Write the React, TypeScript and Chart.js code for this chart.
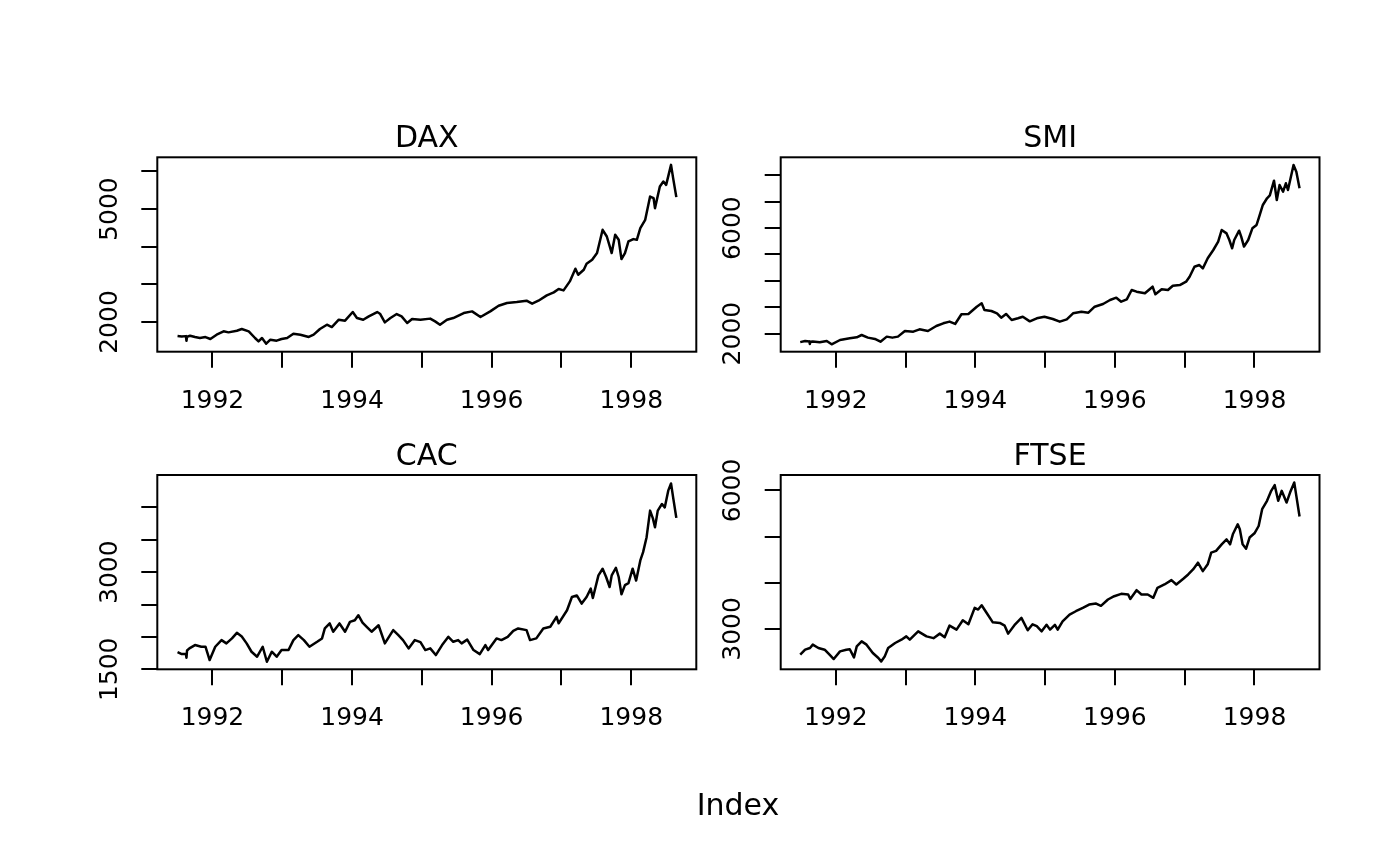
import React, { useEffect, useRef } from 'react';
import { Chart, registerables } from 'chart.js';

Chart.register(...registerables);

// ---------- data ----------
const daxYears = [1991.5, 1991.56, 1991.62, 1991.628, 1991.636, 1991.68, 1991.75, 1991.82, 1991.9, 1991.97,
  1992.06, 1992.16, 1992.23, 1992.35, 1992.42, 1992.52, 1992.61, 1992.66, 1992.71, 1992.77, 1992.83, 1992.92, 1992.99,
  1993.07, 1993.16, 1993.26, 1993.38, 1993.45, 1993.54, 1993.64, 1993.71, 1993.81, 1993.9,
  1994.01, 1994.07, 1994.16, 1994.24, 1994.36, 1994.4, 1994.47, 1994.55, 1994.64, 1994.71, 1994.79, 1994.86, 1994.98,
  1995.12, 1995.19, 1995.26, 1995.36, 1995.45, 1995.6, 1995.72, 1995.84, 1995.98,
  1996.1, 1996.22, 1996.36, 1996.5, 1996.58, 1996.67, 1996.79, 1996.89, 1996.96,
  1997.03, 1997.12, 1997.2, 1997.24, 1997.32, 1997.36, 1997.44, 1997.51, 1997.59, 1997.65, 1997.69, 1997.72, 1997.77, 1997.82, 1997.86, 1997.91, 1997.96,
  1998.03, 1998.08, 1998.13, 1998.2, 1998.27, 1998.32, 1998.34, 1998.41, 1998.46, 1998.5, 1998.57, 1998.6, 1998.646];
const daxValues = [1628, 1615, 1625, 1500, 1610, 1636, 1600, 1575, 1600, 1549,
  1663, 1752, 1725, 1769, 1814, 1752, 1575, 1485, 1575, 1424, 1530, 1504, 1549,
  1575, 1690, 1663, 1602, 1663, 1814, 1928, 1867, 2061, 2035,
  2265, 2106, 2061, 2150, 2265, 2220, 1990, 2106, 2212, 2150, 1973, 2080, 2060,
  2090, 2016, 1928, 2061, 2106, 2239, 2282, 2133, 2282,
  2432, 2504, 2531, 2566, 2486, 2566, 2707, 2787, 2876,
  2840, 3079, 3415, 3256, 3388, 3548, 3654, 3832, 4450, 4272, 4025, 3832, 4318, 4185, 3672, 3832, 4140,
  4203, 4185, 4495, 4716, 5334, 5292, 5026, 5600, 5733, 5645, 6176, 5823, 5318];

const smiYears = [1991.49, 1991.56, 1991.62, 1991.628, 1991.636, 1991.67, 1991.77, 1991.87, 1991.94,
  1992.06, 1992.2, 1992.3, 1992.37, 1992.46, 1992.56, 1992.64, 1992.73, 1992.81, 1992.89, 1992.99,
  1993.11, 1993.2, 1993.32, 1993.44, 1993.54, 1993.63, 1993.71, 1993.8, 1993.9,
  1994.02, 1994.09, 1994.13, 1994.23, 1994.31, 1994.37, 1994.44, 1994.52, 1994.61, 1994.68, 1994.78, 1994.88, 1994.99,
  1995.11, 1995.21, 1995.31, 1995.4, 1995.52, 1995.62, 1995.71, 1995.83, 1995.93,
  1996.02, 1996.09, 1996.17, 1996.24, 1996.31, 1996.43, 1996.54, 1996.58, 1996.67, 1996.76, 1996.83, 1996.93,
  1997.02, 1997.07, 1997.14, 1997.21, 1997.26, 1997.33, 1997.41, 1997.48, 1997.53, 1997.6, 1997.64, 1997.68, 1997.71, 1997.78, 1997.81, 1997.85, 1997.91, 1997.97,
  1998.03, 1998.06, 1998.12, 1998.18, 1998.22, 1998.28, 1998.32, 1998.36, 1998.41, 1998.45, 1998.48, 1998.56, 1998.6, 1998.646];
const smiValues = [1678, 1720, 1700, 1606, 1690, 1700, 1670, 1720, 1595,
  1758, 1822, 1860, 1947, 1847, 1797, 1693, 1885, 1847, 1885, 2099,
  2074, 2163, 2099, 2289, 2391, 2455, 2366, 2732, 2745,
  3020, 3149, 2895, 2857, 2770, 2603, 2745, 2516, 2580, 2640, 2465, 2580, 2641,
  2553, 2452, 2540, 2770, 2831, 2795, 3020, 3123, 3274,
  3362, 3210, 3300, 3654, 3590, 3528, 3779, 3490, 3680, 3654, 3817, 3840,
  3968, 4158, 4537, 4600, 4475, 4855, 5170, 5485, 5929, 5800, 5550, 5235, 5550, 5902, 5680, 5300, 5550, 5993,
  6119, 6372, 6877, 7131, 7240, 7798, 7066, 7635, 7380, 7700, 7445, 8393, 8140, 7510];

const cacYears = [1991.5, 1991.56, 1991.62, 1991.628, 1991.636, 1991.67, 1991.75, 1991.84, 1991.9, 1991.96,
  1992.04, 1992.13, 1992.2, 1992.28, 1992.35, 1992.42, 1992.49, 1992.56, 1992.64, 1992.72, 1992.78, 1992.85, 1992.92, 1992.99,
  1993.09, 1993.16, 1993.23, 1993.31, 1993.39, 1993.5, 1993.57, 1993.61, 1993.68, 1993.73, 1993.82, 1993.9, 1993.97,
  1994.04, 1994.09, 1994.15, 1994.21, 1994.28, 1994.38, 1994.47, 1994.59, 1994.66, 1994.73, 1994.81, 1994.9, 1994.98,
  1995.05, 1995.12, 1995.2, 1995.29, 1995.38, 1995.45, 1995.52, 1995.57, 1995.65, 1995.74, 1995.83, 1995.91, 1995.95,
  1996.07, 1996.14, 1996.23, 1996.31, 1996.38, 1996.5, 1996.55, 1996.64, 1996.74, 1996.84, 1996.93, 1996.96,
  1997.08, 1997.15, 1997.22, 1997.29, 1997.36, 1997.42, 1997.45, 1997.53, 1997.59, 1997.64, 1997.69, 1997.72, 1997.78, 1997.82, 1997.86, 1997.91, 1997.96,
  1998.02, 1998.07, 1998.13, 1998.17, 1998.22, 1998.27, 1998.31, 1998.34, 1998.38, 1998.44, 1998.48, 1998.53, 1998.57, 1998.6, 1998.646];
const cacValues = [1765, 1735, 1740, 1678, 1790, 1823, 1874, 1848, 1850, 1643,
  1848, 1951, 1900, 1977, 2063, 2005, 1900, 1771, 1694, 1848, 1617, 1771, 1694, 1797,
  1797, 1951, 2028, 1951, 1848, 1925, 1977, 2131, 2208, 2080, 2208, 2080, 2232,
  2258, 2335, 2220, 2155, 2080, 2180, 1900, 2105, 2030, 1951, 1823, 1951, 1920,
  1797, 1823, 1720, 1874, 2001, 1925, 1951, 1900, 1958, 1797, 1735, 1874, 1797,
  1977, 1951, 2001, 2094, 2131, 2105, 1951, 1977, 2131, 2157, 2309, 2210,
  2412, 2617, 2640, 2515, 2617, 2745, 2600, 2950, 3053, 2925, 2771, 2950, 3068, 2925, 2658, 2800, 2830,
  3053, 2870, 3181, 3309, 3540, 3950, 3830, 3693, 3950, 4053, 4000, 4258, 4370, 4155, 3838];

const ftseYears = [1991.49, 1991.56, 1991.63, 1991.67, 1991.75, 1991.84, 1991.91, 1991.97,
  1992.06, 1992.15, 1992.2, 1992.26, 1992.3, 1992.37, 1992.44, 1992.53, 1992.61, 1992.65, 1992.7, 1992.75, 1992.85, 1992.94,
  1993.01, 1993.06, 1993.18, 1993.3, 1993.4, 1993.49, 1993.56, 1993.63, 1993.73, 1993.82, 1993.9, 1993.99,
  1994.04, 1994.09, 1994.16, 1994.25, 1994.35, 1994.42, 1994.47, 1994.57, 1994.66, 1994.75, 1994.82, 1994.88, 1994.95,
  1995.02, 1995.07, 1995.14, 1995.18, 1995.25, 1995.35, 1995.44, 1995.54, 1995.63, 1995.73, 1995.8, 1995.9, 1995.99,
  1996.09, 1996.19, 1996.22, 1996.31, 1996.38, 1996.47, 1996.55, 1996.61, 1996.71, 1996.81, 1996.88, 1996.98,
  1997.05, 1997.12, 1997.19, 1997.26, 1997.33, 1997.38, 1997.45, 1997.53, 1997.6, 1997.65, 1997.69, 1997.76, 1997.79, 1997.83, 1997.88, 1997.93,
  1998.0, 1998.06, 1998.11, 1998.18, 1998.24, 1998.29, 1998.34, 1998.39, 1998.46, 1998.51, 1998.57, 1998.6, 1998.646];
const ftseValues = [2441, 2550, 2587, 2659, 2587, 2550, 2441, 2348,
  2513, 2550, 2560, 2383, 2622, 2730, 2659, 2478, 2370, 2296, 2400, 2587, 2695, 2767,
  2839, 2767, 2948, 2839, 2800, 2898, 2820, 3072, 2985, 3187, 3100, 3456,
  3420, 3513, 3350, 3143, 3130, 3070, 2898, 3100, 3239, 2970, 3100, 3058, 2948,
  3090, 2985, 3090, 2985, 3165, 3311, 3383, 3456, 3528, 3550, 3500, 3637, 3709,
  3760, 3745, 3650, 3840, 3745, 3745, 3674, 3891, 3963, 4057, 3963, 4087,
  4180, 4289, 4435, 4252, 4400, 4652, 4690, 4833, 4940, 4833, 5050, 5267, 5160, 4833, 4739, 4980,
  5072, 5230, 5593, 5775, 5992, 6115, 5775, 5992, 5738, 5955, 6174, 5883, 5435];

// ---------- axes ----------
const xTicks = [1992, 1993, 1994, 1995, 1996, 1997, 1998];
const xTickLabels = [1992, 1994, 1996, 1998];
const xLimits = [1991.21, 1998.932];

const daxTicks = [2000, 3000, 4000, 5000, 6000];
const daxTickLabels = [2000, 5000];
const daxLimits = [1211, 6377];

const smiTicks = [2000, 3000, 4000, 5000, 6000, 7000, 8000];
const smiTickLabels = [2000, 6000];
const smiLimits = [1314, 8685];

const cacTicks = [1500, 2000, 2500, 3000, 3500, 4000];
const cacTickLabels = [1500, 3000];
const cacLimits = [1500, 4500];

const ftseTicks = [3000, 4000, 5000, 6000];
const ftseTickLabels = [3000, 6000];
const ftseLimits = [2125, 6335];

const FONT = "'DejaVu Sans', sans-serif";

type Panel = {
  title: string;
  years: number[];
  values: number[];
  yTicks: number[];
  yLabels: number[];
  yLimits: number[];
  left: number;
  top: number;
  width: number;
  height: number;
  pad: { left: number; right: number; top: number; bottom: number };
  yAxisWidth: number;
  titleCenter: number;
  titleTop: number;
};

const panels: Panel[] = [
  { title: 'DAX', years: daxYears, values: daxValues, yTicks: daxTicks, yLabels: daxTickLabels, yLimits: daxLimits,
    left: 0, top: 0, width: 720, height: 433, pad: { left: 0, right: 23.7, top: 157.3, bottom: 21.3 }, yAxisWidth: 157.3,
    titleCenter: 426.8, titleTop: 119.3 },
  { title: 'SMI', years: smiYears, values: smiValues, yTicks: smiTicks, yLabels: smiTickLabels, yLimits: smiLimits,
    left: 720, top: 0, width: 680, height: 433, pad: { left: 0, right: 80.5, top: 157.3, bottom: 21.3 }, yAxisWidth: 60.7,
    titleCenter: 1050.1, titleTop: 119.3 },
  { title: 'CAC', years: cacYears, values: cacValues, yTicks: cacTicks, yLabels: cacTickLabels, yLimits: cacLimits,
    left: 0, top: 433, width: 720, height: 433, pad: { left: 0, right: 23.7, top: 42, bottom: 136.7 }, yAxisWidth: 157.3,
    titleCenter: 426.8, titleTop: 437.4 },
  { title: 'FTSE', years: ftseYears, values: ftseValues, yTicks: ftseTicks, yLabels: ftseTickLabels, yLimits: ftseLimits,
    left: 720, top: 433, width: 680, height: 433, pad: { left: 0, right: 80.5, top: 42, bottom: 136.7 }, yAxisWidth: 60.7,
    titleCenter: 1050.1, titleTop: 437.4 },
];

// frame drawn on the extents of the two scales (R's box())
const boxPlugin = {
  id: 'rbox',
  afterDraw(chart: any) {
    const { ctx } = chart;
    const xs = chart.scales.x;
    const ys = chart.scales.y;
    ctx.save();
    ctx.strokeStyle = '#000';
    ctx.lineWidth = 2;
    ctx.strokeRect(xs.left, ys.top, xs.right - xs.left, ys.bottom - ys.top);
    ctx.restore();
  },
};

function PanelChart({ p }: { p: Panel }) {
  const ref = useRef<HTMLCanvasElement | null>(null);
  useEffect(() => {
    if (!ref.current) return;
    const chart = new Chart(ref.current, {
      type: 'line',
      data: {
        datasets: [
          {
            data: p.years.map((x, i) => ({ x, y: p.values[i] })),
            borderColor: '#000',
            borderWidth: 2.5,
            pointRadius: 0,
            tension: 0,
            fill: false,
            borderJoinStyle: 'round',
          },
        ],
      },
      options: {
        responsive: false,
        animation: false,
        devicePixelRatio: 1,
        layout: { padding: p.pad },
        plugins: {
          legend: { display: false },
          tooltip: { enabled: false },
          title: { display: false },
        },
        scales: {
          x: {
            type: 'linear',
            min: xLimits[0],
            max: xLimits[1],
            afterBuildTicks: (s: any) => {
              s.ticks = xTicks.map((v) => ({ value: v }));
            },
            afterFit: (s: any) => {
              s.height = 60;
            },
            ticks: {
              autoSkip: false,
              maxRotation: 0,
              minRotation: 0,
              padding: 18.6,
              color: '#000',
              font: { family: FONT, size: 25 },
              callback: (v: any) => (xTickLabels.includes(Number(v)) ? String(v) : ''),
            },
            grid: { display: true, drawOnChartArea: false, drawTicks: true, tickLength: 16, color: '#000', lineWidth: 2 },
            border: { display: false },
          },
          y: {
            type: 'linear',
            min: p.yLimits[0],
            max: p.yLimits[1],
            afterBuildTicks: (s: any) => {
              s.ticks = p.yTicks.map((v) => ({ value: v }));
            },
            afterFit: (s: any) => {
              s.width = p.yAxisWidth;
            },
            ticks: {
              autoSkip: false,
              minRotation: 90,
              maxRotation: 90,
              crossAlign: 'center',
              padding: -1,
              color: '#000',
              font: { family: FONT, size: 25 },
              callback: (v: any) => (p.yLabels.includes(Number(v)) ? String(v) : ''),
            },
            grid: { display: true, drawOnChartArea: false, drawTicks: true, tickLength: 16, color: '#000', lineWidth: 2 },
            border: { display: false },
          },
        },
      } as any,
      plugins: [boxPlugin],
    });
    return () => chart.destroy();
  }, [p]);
  return (
    <>
      <canvas
        ref={ref}
        width={p.width}
        height={p.height}
        style={{ position: 'absolute', left: p.left, top: p.top, width: p.width, height: p.height }}
      />
      <div
        style={{
          position: 'absolute',
          left: p.titleCenter - 150,
          top: p.titleTop,
          width: 300,
          textAlign: 'center',
          fontFamily: FONT,
          fontSize: 30,
          lineHeight: '36px',
          color: '#000',
          whiteSpace: 'nowrap',
        }}
      >
        {p.title}
      </div>
    </>
  );
}

export default function App() {
  return (
    <div style={{ position: 'fixed', left: 0, top: 0, width: 1400, height: 866, background: '#fff', overflow: 'hidden' }}>
      {panels.map((p) => (
        <PanelChart key={p.title} p={p} />
      ))}
      <div
        style={{
          position: 'absolute',
          left: 638,
          top: 787.3,
          width: 200,
          textAlign: 'center',
          fontFamily: FONT,
          fontSize: 30,
          lineHeight: '36px',
          color: '#000',
        }}
      >
        Index
      </div>
    </div>
  );
}
